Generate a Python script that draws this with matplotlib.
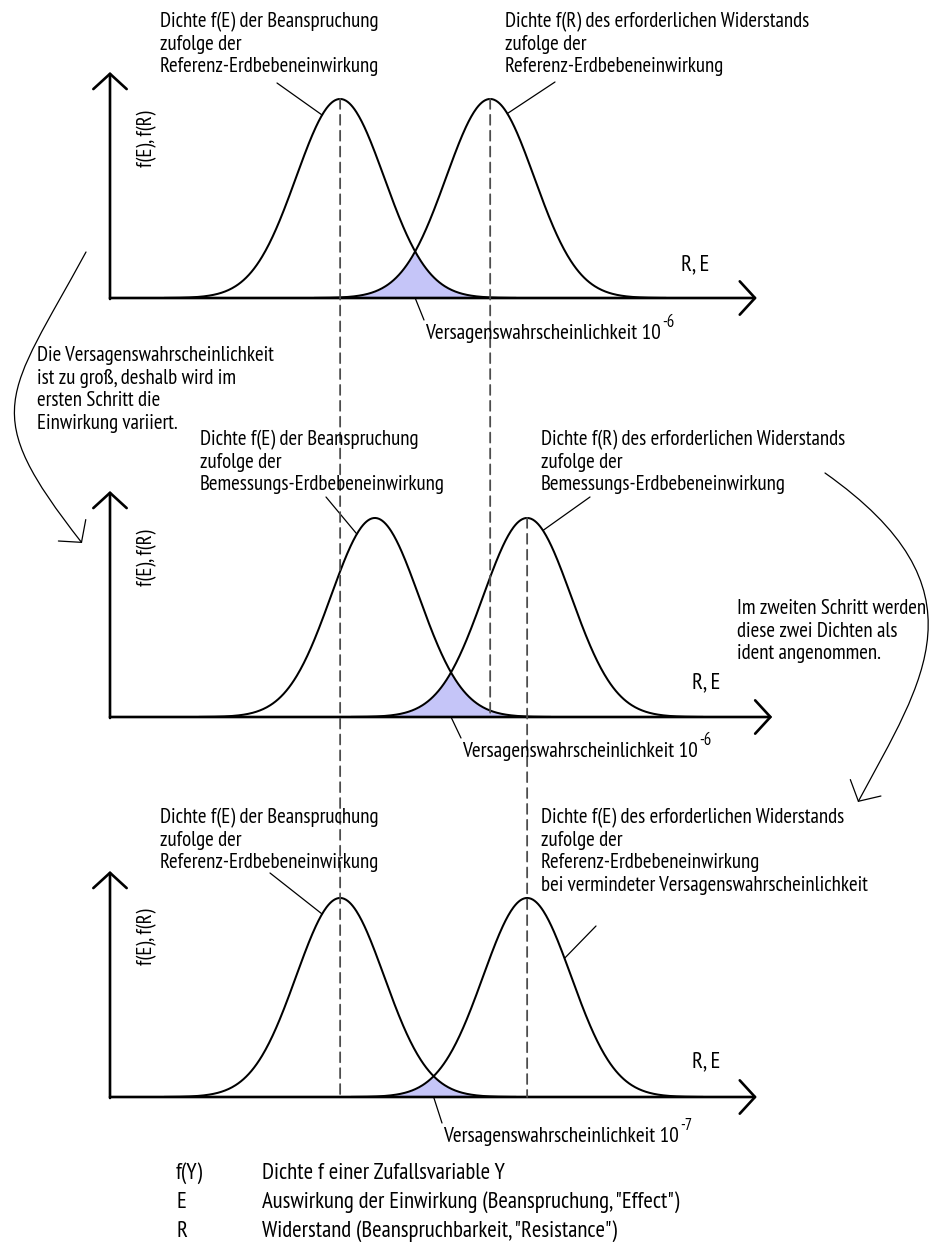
import numpy as np
import matplotlib
matplotlib.use("Agg")
import matplotlib.pyplot as plt
from matplotlib.patches import FancyArrowPatch, ConnectionPatch
from matplotlib.path import Path

plt.rcParams["font.family"] = ["PT Sans Narrow", "Carlito", "DejaVu Sans"]

# ---- data -------------------------------------------------------------
sigma = 1.0
mean_E = [5.23, 6.02, 5.23]        # effect (Beanspruchung) per step
mean_R = [8.64, 9.48, 9.48]        # required resistance per step
prob_exp = ["-6", "-6", "-7"]      # failure probability exponents
axis_len = [14.70, 15.05, 14.70]   # length of the R,E axis per panel

legend_sym = ["f(Y)", "E", "R"]
legend_txt = ["Dichte f einer Zufallsvariable Y",
              "Auswirkung der Einwirkung (Beanspruchung, \"Effect\")",
              "Widerstand (Beanspruchbarkeit, \"Resistance\")"]


def pdf(x, m):
    return np.exp(-0.5 * ((x - m) / sigma) ** 2) / (sigma * np.sqrt(2 * np.pi))


W, H = 932, 1242
FS = 15          # curve labels and notes
FS_PROB = 15.4   # failure probability labels
FS_BIG = 16.4    # axis name and legend
fig = plt.figure(figsize=(W / 100, H / 100), dpi=100)

# overlay in pixel units for free text and curved arrows
ov = fig.add_axes([0, 0, 1, 1], zorder=5)
ov.set_xlim(0, W)
ov.set_ylim(H, 0)
ov.axis("off")

base_px = [298, 717, 1097]
x0_px, width_px, height_px = 110, 662, 226
XMAX, YMAX = 15.045, 0.453

lavender = "#c5c5f8"
axes = []
for i in range(3):
    ax = fig.add_axes([x0_px / W, 1 - base_px[i] / H, width_px / W, height_px / H])
    ax.set_xlim(0, XMAX)
    ax.set_ylim(0, YMAX)
    ax.axis("off")
    axes.append(ax)

    x = np.linspace(0, XMAX, 1200)
    fE, fR = pdf(x, mean_E[i]), pdf(x, mean_R[i])
    ax.fill_between(x, 0, np.minimum(fE, fR), color=lavender, lw=0, zorder=1)
    for m in (mean_E[i], mean_R[i]):
        xs = np.linspace(m - 4 * sigma, m + 4 * sigma, 400)
        ax.plot(xs, pdf(xs, m), color="black", lw=1.45, zorder=3,
                solid_capstyle="round")

    head = "->,head_length=11,head_width=12"
    ax.annotate("", xy=(axis_len[i], 0), xytext=(0, 0),
                arrowprops=dict(arrowstyle=head, lw=1.9, color="black",
                                shrinkA=0, shrinkB=0, mutation_scale=1),
                annotation_clip=False, zorder=4)
    ax.annotate("", xy=(0, YMAX), xytext=(0, -0.002),
                arrowprops=dict(arrowstyle=head, lw=1.9, color="black",
                                shrinkA=0, shrinkB=0, mutation_scale=1),
                annotation_clip=False, zorder=4)

    # y label
    ov.text(147, [139, 558, 937][i], "f(E), f(R)", rotation=90,
            ha="center", va="center", fontsize=FS)
    # R, E label
    ov.text([681, 692, 692][i], [270, 688, 1067][i], "R, E",
            ha="left", va="baseline", fontsize=FS_BIG)

# ---- dashed mean lines running across panels -----------------------------
dash = dict(color="#4d4d4d", lw=1.3, linestyle=(0, (5.5, 3.3)), zorder=2)
links = [(0, mean_E[0], 2), (0, mean_R[0], 1), (1, mean_R[1], 2)]
for ia, m, ib in links:
    con = ConnectionPatch(xyA=(m, pdf(m, m)), coordsA=axes[ia].transData,
                          xyB=(m, 0), coordsB=axes[ib].transData, **dash)
    fig.add_artist(con)


# ---- leader lines ---------------------------------------------------------
def leader(ax, xd, yd, tx, ty):
    ax.annotate("", xy=(xd, yd), xycoords="data", xytext=(tx, ty),
                textcoords=ov.transData, annotation_clip=False,
                arrowprops=dict(arrowstyle="-", lw=0.9, color="black",
                                shrinkA=0, shrinkB=0))


# curve labels: point on the curve and the text-side end of the line
curve_leads = [
    (0, mean_E[0], -0.41, (277, 83)), (0, mean_R[0], 0.39, (555, 82)),
    (1, mean_E[1], -0.41, (326, 497)), (1, mean_R[1], 0.36, (590, 497)),
    (2, mean_E[2], -0.41, (270, 873)), (2, mean_R[2], 0.85, (596, 926)),
]
for i, m, dx, (tx, ty) in curve_leads:
    leader(axes[i], m + dx, pdf(m + dx, m), tx, ty)

prob_text_pos = [(425, 339), (462, 757), (443, 1142)]
for i in range(3):
    xm = (mean_E[i] + mean_R[i]) / 2
    tx, ty = prob_text_pos[i]
    leader(axes[i], xm, 0, tx - 1, ty - 19)


# ---- text blocks --------------------------------------------------------
def block(x, y, lines, step=22.7):
    for k, s in enumerate(lines):
        ov.text(x, y + k * step, s, ha="left", va="baseline", fontsize=FS)


block(160, 27, ["Dichte f(E) der Beanspruchung", "zufolge der",
                "Referenz-Erdbebeneinwirkung"])
block(505, 27, ["Dichte f(R) des erforderlichen Widerstands", "zufolge der",
                "Referenz-Erdbebeneinwirkung"])
block(37, 361, ["Die Versagenswahrscheinlichkeit", "ist zu groß, deshalb wird im",
                "ersten Schritt die", "Einwirkung variiert."])
block(200, 445, ["Dichte f(E) der Beanspruchung", "zufolge der",
                 "Bemessungs-Erdbebeneinwirkung"])
block(541, 445, ["Dichte f(R) des erforderlichen Widerstands", "zufolge der",
                 "Bemessungs-Erdbebeneinwirkung"])
block(737, 614, ["Im zweiten Schritt werden", "diese zwei Dichten als",
                 "ident angenommen."])
block(160, 823, ["Dichte f(E) der Beanspruchung", "zufolge der",
                 "Referenz-Erdbebeneinwirkung"])
block(541, 823, ["Dichte f(E) des erforderlichen Widerstands", "zufolge der",
                 "Referenz-Erdbebeneinwirkung",
                 "bei vermindeter Versagenswahrscheinlichkeit"])

# legend
for k in range(3):
    y = 1179 + 29 * k
    ov.text(176, y, legend_sym[k], ha="left", va="baseline", fontsize=FS_BIG)
    ov.text(262, y, legend_txt[k], ha="left", va="baseline", fontsize=FS_BIG)

# failure probability labels with superscript exponent
prob_artists = []
for i in range(3):
    tx, ty = prob_text_pos[i]
    t = ov.text(tx, ty, "Versagenswahrscheinlichkeit 10", ha="left",
                va="baseline", fontsize=FS_PROB)
    prob_artists.append(t)
fig.canvas.draw()
renderer = fig.canvas.get_renderer()
for i, t in enumerate(prob_artists):
    bb = t.get_window_extent(renderer)
    tx, ty = prob_text_pos[i]
    ov.text(bb.x1 + 1, ty - 12, prob_exp[i], ha="left", va="baseline",
            fontsize=12)

# ---- curved step arrows ---------------------------------------------------
arrow_style = "->,head_length=11,head_width=12.5"
p1 = Path([(86, 252), (6, 399), (-22, 410), (82, 543)],
          [Path.MOVETO, Path.CURVE4, Path.CURVE4, Path.CURVE4])
p2 = Path([(825, 473), (989, 589), (924, 679), (858, 802)],
          [Path.MOVETO, Path.CURVE4, Path.CURVE4, Path.CURVE4])
for p in (p1, p2):
    ov.add_patch(FancyArrowPatch(path=p, arrowstyle=arrow_style,
                                 mutation_scale=1, lw=0.9, color="black",
                                 transform=ov.transData, clip_on=False))

fig.savefig("out.png", dpi=100)
